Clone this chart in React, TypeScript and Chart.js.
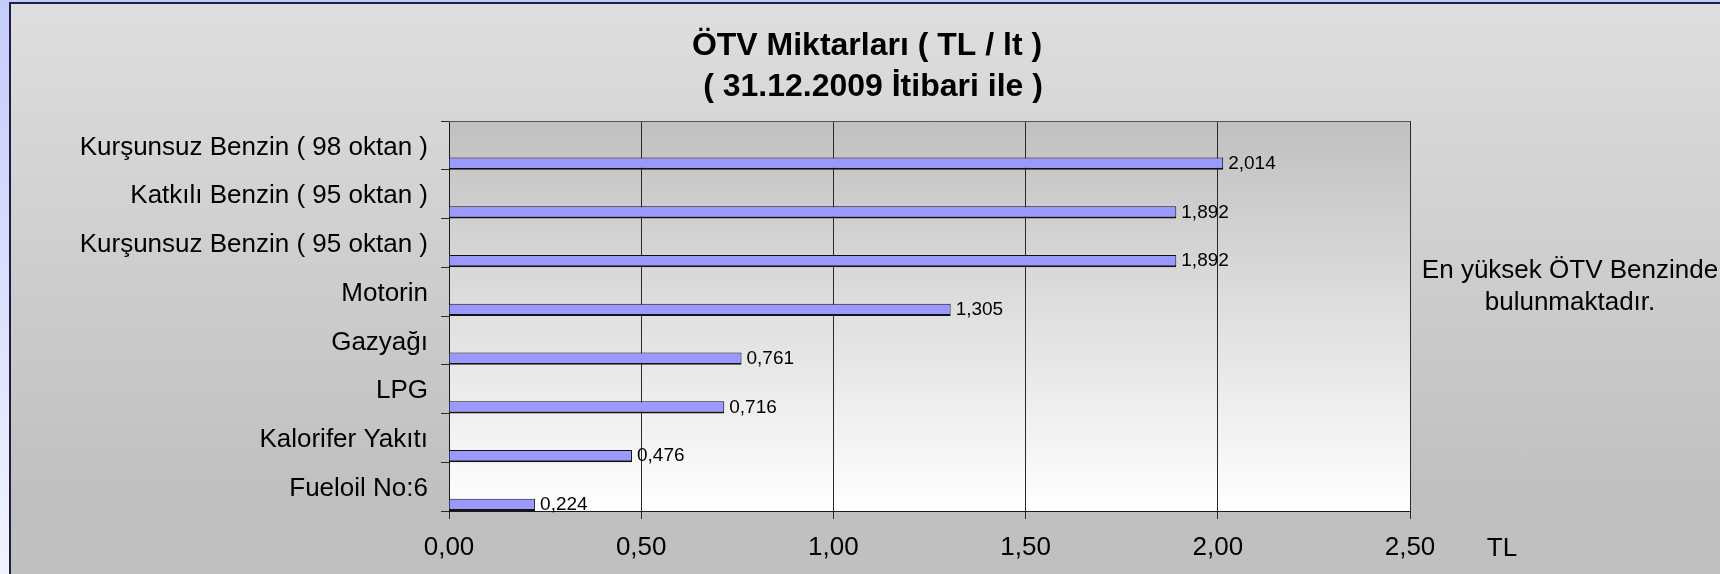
import React, { useEffect, useRef } from "react";
import { Chart, registerables } from "chart.js";

Chart.register(...registerables);

// ---- data ----
const categories: string[] = [
  "Kurşunsuz Benzin ( 98 oktan )",
  "Katkılı Benzin ( 95 oktan )",
  "Kurşunsuz Benzin ( 95 oktan )",
  "Motorin",
  "Gazyağı",
  "LPG",
  "Kalorifer Yakıtı",
  "Fueloil No:6",
];
const values: number[] = [2.014, 1.892, 1.892, 1.305, 0.761, 0.716, 0.476, 0.224];
const xTicks: number[] = [0, 0.5, 1, 1.5, 2, 2.5];
const titleLines: string[] = ["ÖTV Miktarları ( TL / lt )", "( 31.12.2009 İtibari ile )"];
const noteLines: string[] = ["En yüksek ÖTV Benzinde", "bulunmaktadır."];
const unitLabel = "TL";

const FONT = '"Liberation Sans", Arial, Helvetica, sans-serif';
const fmt2 = (v: number) => v.toFixed(2).replace(".", ",");
const fmt3 = (v: number) => v.toFixed(3).replace(".", ",");

const REAL = 3; // index of the visible dataset (bottom slot of each band)

const decorPlugin = {
  id: "decor",
  beforeDraw(chart: any) {
    const { ctx, chartArea: a } = chart;
    ctx.save();
    const g = ctx.createLinearGradient(0, a.top, 0, a.bottom);
    g.addColorStop(0, "#c0c0c0");
    g.addColorStop(1, "#ffffff");
    ctx.fillStyle = g;
    ctx.fillRect(a.left, a.top, a.right - a.left, a.bottom - a.top);
    ctx.restore();
  },
  afterDraw(chart: any) {
    const { ctx, chartArea: a } = chart;
    ctx.save();
    // plot frame top
    ctx.strokeStyle = "#555555";
    ctx.lineWidth = 1;
    ctx.beginPath();
    ctx.moveTo(a.left, Math.round(a.top) + 0.5);
    ctx.lineTo(a.right, Math.round(a.top) + 0.5);
    ctx.stroke();

    // title
    ctx.fillStyle = "#000";
    ctx.textAlign = "center";
    ctx.textBaseline = "alphabetic";
    ctx.font = `bold 32px ${FONT}`;
    ctx.fillText(titleLines[0], 867, 55);
    ctx.fillText(titleLines[1], 873, 96);

    // side note
    ctx.font = `26px ${FONT}`;
    ctx.fillText(noteLines[0], 1570, 278);
    ctx.fillText(noteLines[1], 1570, 310);

    // unit label
    ctx.fillText(unitLabel, a.right + 92, a.bottom + 45);

    // value labels
    const meta = chart.getDatasetMeta(REAL);
    ctx.font = `19px ${FONT}`;
    ctx.textAlign = "left";
    ctx.textBaseline = "middle";
    meta.data.forEach((bar: any, i: number) => {
      const p = bar.getProps(["x", "y"], true);
      ctx.fillText(fmt3(values[i]), p.x + 5, p.y);
    });
    ctx.restore();
  },
};

export default function App() {
  const ref = useRef<HTMLCanvasElement | null>(null);

  useEffect(() => {
    if (!ref.current) return;
    const dummy = () => ({
      data: [] as number[],
      backgroundColor: "rgba(0,0,0,0)",
      borderWidth: 0,
    });
    const chart = new Chart(ref.current, {
      type: "bar",
      data: {
        labels: categories,
        datasets: [
          dummy(),
          dummy(),
          dummy(),
          {
            data: values,
            backgroundColor: "#9999ff",
            borderColor: "#111111",
            borderWidth: { top: 1, right: 1, bottom: 2, left: 1 },
          },
        ],
      },
      options: {
        indexAxis: "y",
        responsive: false,
        maintainAspectRatio: false,
        animation: false,
        events: [],
        datasets: { bar: { categoryPercentage: 1, barPercentage: 0.99 } },
        layout: { padding: { left: 0, right: 310, top: 121, bottom: 0 } },
        plugins: {
          legend: { display: false },
          title: { display: false },
          tooltip: { enabled: false },
        },
        scales: {
          x: {
            type: "linear",
            min: 0,
            max: 2.5,
            afterBuildTicks: (s: any) => {
              s.ticks = xTicks.map((v) => ({ value: v }));
            },
            afterFit: (s: any) => {
              s.height = 63;
            },
            ticks: {
              callback: (v: any) => fmt2(Number(v)),
              font: { family: FONT, size: 26 },
              color: "#000",
              padding: 13,
              maxRotation: 0,
              autoSkip: false,
            },
            grid: { color: "#2a2a2a", lineWidth: 1, tickLength: 8, drawTicks: true },
            border: { display: true, color: "#1a1a1a", width: 1 },
          },
          y: {
            type: "category",
            afterFit: (s: any) => {
              s.width = 449;
            },
            ticks: {
              font: { family: FONT, size: 26 },
              color: "#000",
              padding: 13,
              labelOffset: 2,
              autoSkip: false,
            },
            grid: {
              drawOnChartArea: false,
              drawTicks: true,
              tickLength: 8,
              color: "#2a2a2a",
              offset: true,
            },
            border: { display: true, color: "#1a1a1a", width: 1 },
          },
        },
      } as any,
      plugins: [decorPlugin],
    });
    return () => chart.destroy();
  }, []);

  return (
    <div
      style={{
        position: "fixed",
        left: 0,
        top: 0,
        width: 1720,
        height: 574,
        overflow: "hidden",
        background: "linear-gradient(to bottom, #c4ccfa 0%, #f2f4ff 100%)",
      }}
    >
      <div
        style={{
          position: "absolute",
          left: 9,
          top: 2,
          width: 1720,
          height: 600,
          boxSizing: "border-box",
          borderLeft: "2px solid #1e1e48",
          borderTop: "2px solid #1e1e48",
          background: "linear-gradient(to bottom, #dedede 0%, #c0c0c0 82%, #c0c0c0 100%)",
        }}
      />
      <canvas
        ref={ref}
        width={1720}
        height={574}
        style={{ position: "absolute", left: 0, top: 0, width: 1720, height: 574 }}
      />
    </div>
  );
}
